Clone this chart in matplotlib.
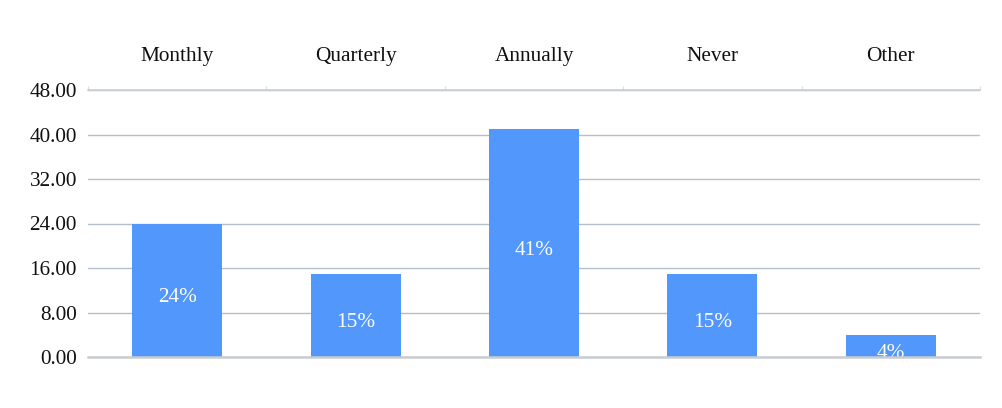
import matplotlib
matplotlib.use("Agg")
import matplotlib.pyplot as plt
import numpy as np

categories = ["Monthly", "Quarterly", "Annually", "Never", "Other"]
values = [24, 15, 41, 15, 4]
labels = ["24%", "15%", "41%", "15%", "4%"]
yticks = [0, 8, 16, 24, 32, 40, 48]

plt.rcParams['font.family'] = ['Liberation Serif', 'DejaVu Serif']
FS = 15.3

fig = plt.figure(figsize=(10.02, 4.08), dpi=100)
ax = fig.add_axes([88/1002, 1-357/408, (980-88)/1002, (357-90)/408])

x = np.arange(len(categories))
bars = ax.bar(x, values, width=0.505, color="#5297fb", zorder=3)
ax.set_xlim(-0.5, len(categories)-0.5)
ax.set_ylim(0, 48)
ax.set_yticks(yticks)
ax.set_yticklabels([f"{v:.2f}" for v in yticks], fontsize=FS, color="#111111")
ax.grid(axis='y', color="#b3bfca", linewidth=1, zorder=0)
ax.tick_params(axis='y', length=0, pad=8)

ax.xaxis.tick_top()
ax.set_xticks(x)
ax.set_xticklabels(categories, fontsize=FS, color="#111111")
ax.tick_params(axis='x', which='major', length=0, pad=17)
ax.set_xticks(np.arange(-0.5, len(categories)), minor=True)
ax.tick_params(axis='x', which='minor', length=3, width=0.8, color="#d8dde2", direction='out', top=True, bottom=False)

for s in ['left', 'right']:
    ax.spines[s].set_visible(False)
ax.spines['top'].set_color("#c9d0d6")
ax.spines['top'].set_linewidth(1.2)
ax.spines['bottom'].set_color("#c9cdd1")
ax.spines['bottom'].set_linewidth(1.8)
ax.spines['bottom'].set_zorder(4)

for xi, v, lab in zip(x, values, labels):
    ax.text(xi, v/2 - 1.3, lab, ha='center', va='center', color='white', fontsize=FS, zorder=4, clip_on=True)

fig.savefig("out.png", dpi=100)
